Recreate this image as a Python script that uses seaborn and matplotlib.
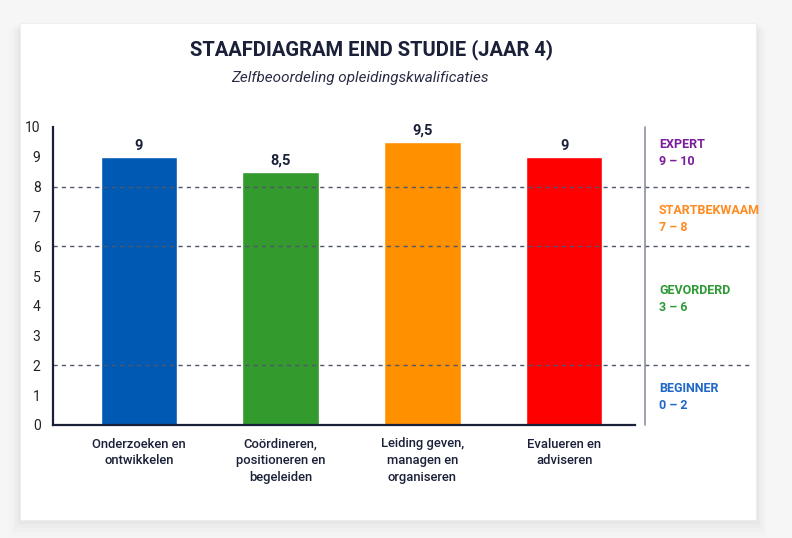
import matplotlib
matplotlib.use("Agg")
import matplotlib.pyplot as plt
import matplotlib.patches as mpatches
import seaborn as sns
import pandas as pd

# Data
categories = [
    "Onderzoeken en\nontwikkelen",
    "Coördineren,\npositioneren en\nbegeleiden",
    "Leiding geven,\nmanagen en\norganiseren",
    "Evalueren en\nadviseren",
]
scores = [9, 8.5, 9.5, 9]
score_labels = ["9", "8,5", "9,5", "9"]
bar_colors = ["#0059b3", "#339a2e", "#ff9000", "#ff0000"]

level_names = ["EXPERT", "STARTBEKWAAM", "GEVORDERD", "BEGINNER"]
level_ranges = ["9 – 10", "7 – 8", "3 – 6", "0 – 2"]
level_colors = ["#7a1c9c", "#ff8a1f", "#2f9a36", "#1f68c8"]
level_mid = [9.13, 6.9, 4.23, 0.92]
boundaries = [8, 6, 2]

title = "STAAFDIAGRAM EIND STUDIE (JAAR 4)"
subtitle = "Zelfbeoordeling opleidingskwalificaties"

navy = "#1b2039"

sns.set_theme(style="white")
plt.rcParams["font.family"] = ["Roboto", "DejaVu Sans"]

df = pd.DataFrame({"categorie": categories, "score": scores})

fig = plt.figure(figsize=(7.92, 5.38), dpi=100)
fig.patch.set_facecolor("#f6f6f6")

# card with soft shadow
for i, a in enumerate([0.02, 0.016, 0.012, 0.008, 0.005]):
    off = (i + 1) * 2.5
    fig.patches.append(mpatches.Rectangle(
        ((20 - off) / 792, (538 - 520 - off * 1.6) / 538),
        (736 + 2 * off) / 792, (497 + off) / 538,
        transform=fig.transFigure, facecolor="black", alpha=a,
        edgecolor="none", zorder=0))
fig.patches.append(mpatches.Rectangle(
    (20 / 792, (538 - 520) / 538), 736 / 792, 497 / 538,
    transform=fig.transFigure, facecolor="white", edgecolor="#ededed",
    linewidth=0.6, zorder=1))

ax = fig.add_axes([53 / 792, 1 - 425 / 538, 582 / 792, 298 / 538])
ax.set_facecolor("none")
ax.set_zorder(2)

sns.barplot(data=df, x="categorie", y="score", hue="categorie",
            palette=bar_colors, legend=False, width=0.54, saturation=1,
            ax=ax)

for cont, lab in zip(ax.containers, score_labels):
    ax.bar_label(cont, labels=[lab], padding=3, fontsize=10.5,
                 fontweight="bold", color=navy)

ax.set_xlim(-0.607, 3.5)
ax.set_ylim(0, 10)
ax.set_yticks(range(0, 11))
ax.tick_params(axis="y", length=0, pad=9, labelsize=10, labelcolor="#222222")
ax.tick_params(axis="x", length=0, pad=9, labelsize=9.4, labelcolor=navy)
for t in ax.get_xticklabels():
    t.set_fontweight("medium")
    t.set_linespacing(1.35)
ax.set_xlabel("")
ax.set_ylabel("")

sns.despine(ax=ax)
ax.spines["left"].set_color(navy)
ax.spines["bottom"].set_color(navy)
ax.spines["left"].set_linewidth(1.6)
ax.spines["bottom"].set_linewidth(1.6)

# level boundaries
for b in boundaries:
    ax.axhline(b, xmin=0, xmax=(753 - 53) / 582, color="#50566b",
               linestyle=(0, (3, 3)), linewidth=1.0, clip_on=False, zorder=1)

# right separator
ax.axvline(3.57, ymin=0, ymax=1, color="#8c90a0", linewidth=1.2,
           clip_on=False)

for name, rng, col, y in zip(level_names, level_ranges, level_colors, level_mid):
    ax.text(3.67, y + 0.29, name, color=col, fontsize=9.0,
            fontweight="bold", va="center", ha="left", clip_on=False)
    ax.text(3.67, y - 0.28, rng, color=col, fontsize=9.0,
            fontweight="bold", va="center", ha="left", clip_on=False)

fig.text(371 / 792, 1 - 50 / 538, title, ha="center", va="center",
         fontsize=14.5, fontweight="bold", color=navy)
fig.text(360 / 792, 1 - 78 / 538, subtitle, ha="center", va="center",
         fontsize=11, style="italic", color="#2a2e45")

fig.savefig("out.png", dpi=100, facecolor=fig.get_facecolor())
